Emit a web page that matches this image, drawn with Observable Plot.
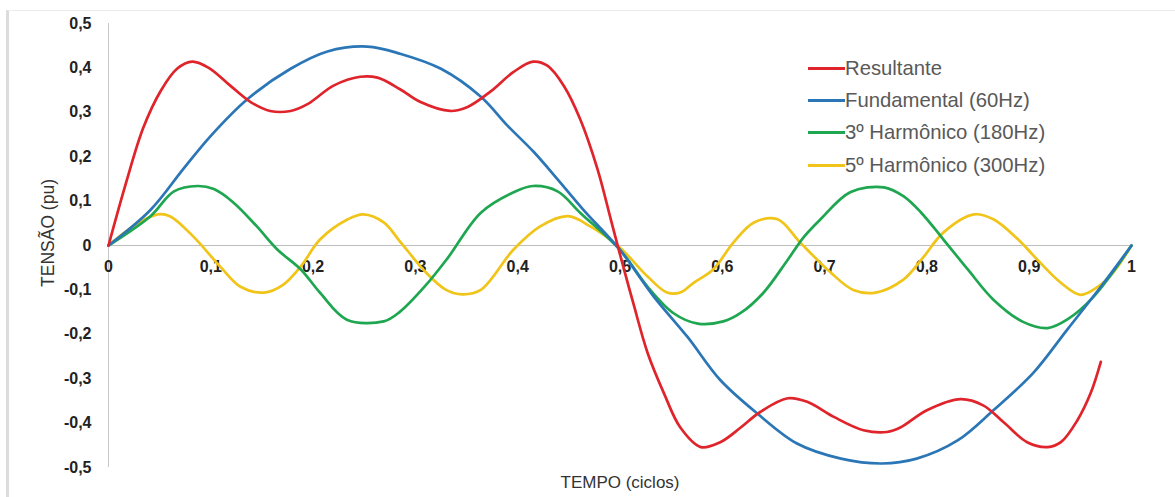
<!DOCTYPE html>
<html>
<head>
<meta charset="utf-8">
<script src="https://cdn.jsdelivr.net/npm/d3@7"></script>
<script src="https://cdn.jsdelivr.net/npm/@observablehq/plot@0.6"></script>
<style>
  html, body { margin: 0; padding: 0; background: #fff; }
  #wrap { position: relative; width: 1175px; height: 497px; overflow: hidden; font-family: "Liberation Sans", Arial, sans-serif; }
  #frame { position: absolute; left: 6px; top: 10px; right: 0; bottom: 0; border-left: 3px solid #dcdcdc; border-top: 1px solid #ececec; }
  #chart { position: absolute; left: 0; top: 0; }
  #legend { position: absolute; left: 808px; top: 52px; }
  .item { display: flex; align-items: center; height: 32.3px; }
  .sw { width: 37px; height: 3px; }
  .lbl { font-size: 20.3px; color: #595959; white-space: nowrap; }
</style>
</head>
<body>
<div id="wrap">
  <div id="frame"></div>
  <div id="chart"></div>
  <div id="legend"></div>
</div>
<script>
// ---- data ----
const seriesNames = ["Resultante", "Fundamental (60Hz)", "3º Harmônico (180Hz)", "5º Harmônico (300Hz)"];
const seriesColors = ["#e0242b", "#2b76b6", "#1fa650", "#f0c419"];

const resT = [0, 0.017, 0.034, 0.051, 0.067, 0.082, 0.098, 0.119, 0.139, 0.158, 0.178, 0.195, 0.22, 0.246, 0.263, 0.285, 0.305, 0.334, 0.351, 0.373, 0.396, 0.415, 0.429, 0.445, 0.461, 0.478, 0.491, 0.5, 0.513, 0.527, 0.543, 0.559, 0.579, 0.598, 0.618, 0.637, 0.664, 0.683, 0.709, 0.738, 0.761, 0.774, 0.8, 0.833, 0.855, 0.875, 0.898, 0.918, 0.931, 0.947, 0.96, 0.97];
const resV = [0, 0.14, 0.265, 0.348, 0.398, 0.414, 0.40, 0.36, 0.323, 0.303, 0.303, 0.319, 0.36, 0.38, 0.378, 0.352, 0.323, 0.303, 0.312, 0.346, 0.391, 0.414, 0.405, 0.36, 0.285, 0.172, 0.059, -0.02, -0.13, -0.242, -0.333, -0.41, -0.454, -0.443, -0.41, -0.375, -0.344, -0.352, -0.386, -0.416, -0.42, -0.41, -0.371, -0.346, -0.36, -0.398, -0.443, -0.454, -0.443, -0.394, -0.333, -0.262];

const fundT = [0, 0.041, 0.073, 0.1, 0.136, 0.178, 0.214, 0.253, 0.285, 0.325, 0.364, 0.39, 0.416, 0.439, 0.464, 0.5, 0.533, 0.566, 0.598, 0.634, 0.673, 0.716, 0.756, 0.79, 0.83, 0.865, 0.904, 0.937, 0.97, 1];
const fundV = [0, 0.08, 0.172, 0.247, 0.33, 0.398, 0.437, 0.448, 0.432, 0.398, 0.335, 0.27, 0.21, 0.149, 0.081, -0.01, -0.115, -0.206, -0.303, -0.378, -0.446, -0.48, -0.491, -0.48, -0.439, -0.371, -0.287, -0.19, -0.093, 0];

const h3T = [0, 0.041, 0.064, 0.087, 0.103, 0.122, 0.145, 0.165, 0.188, 0.207, 0.233, 0.269, 0.285, 0.31, 0.331, 0.364, 0.396, 0.415, 0.439, 0.461, 0.5, 0.527, 0.552, 0.576, 0.601, 0.618, 0.64, 0.664, 0.68, 0.696, 0.725, 0.758, 0.777, 0.794, 0.816, 0.84, 0.865, 0.894, 0.918, 0.937, 0.963, 1];
const h3V = [0, 0.066, 0.122, 0.134, 0.127, 0.097, 0.043, -0.009, -0.054, -0.107, -0.167, -0.171, -0.149, -0.09, -0.03, 0.074, 0.12, 0.134, 0.122, 0.074, -0.01, -0.093, -0.152, -0.176, -0.171, -0.152, -0.107, -0.032, 0.02, 0.059, 0.12, 0.131, 0.111, 0.075, 0.014, -0.054, -0.122, -0.172, -0.186, -0.167, -0.115, 0];

const h5T = [0, 0.024, 0.048, 0.06, 0.083, 0.109, 0.129, 0.152, 0.171, 0.188, 0.207, 0.234, 0.249, 0.269, 0.285, 0.31, 0.33, 0.346, 0.364, 0.396, 0.422, 0.449, 0.471, 0.5, 0.527, 0.546, 0.559, 0.572, 0.591, 0.611, 0.631, 0.654, 0.676, 0.706, 0.728, 0.75, 0.777, 0.797, 0.816, 0.846, 0.865, 0.889, 0.908, 0.931, 0.95, 0.967, 0.982, 1];
const h5V = [0, 0.043, 0.07, 0.066, 0.02, -0.047, -0.093, -0.106, -0.088, -0.047, 0.014, 0.059, 0.07, 0.052, 0.009, -0.06, -0.1, -0.11, -0.1, -0.009, 0.043, 0.066, 0.043, -0.005, -0.07, -0.106, -0.106, -0.084, -0.054, 0.007, 0.052, 0.059, 0.007, -0.061, -0.1, -0.106, -0.077, -0.025, 0.029, 0.07, 0.059, 0.014, -0.032, -0.084, -0.111, -0.093, -0.061, 0];

const xTicks = [0, 0.1, 0.2, 0.3, 0.4, 0.5, 0.6, 0.7, 0.8, 0.9, 1];
const xTickLabels = ["0", "0,1", "0,2", "0,3", "0,4", "0,5", "0,6", "0,7", "0,8", "0,9", "1"];
const yTicks = [-0.5, -0.4, -0.3, -0.2, -0.1, 0, 0.1, 0.2, 0.3, 0.4, 0.5];
const yTickLabels = ["-0,5", "-0,4", "-0,3", "-0,2", "-0,1", "0", "0,1", "0,2", "0,3", "0,4", "0,5"];
const xTitle = "TEMPO (ciclos)";
const yTitle = "TENSÃO (pu)";

// ---- build table ----
const pairs = [[resT, resV], [fundT, fundV], [h3T, h3V], [h5T, h5V]];
const rows = [];
pairs.forEach(([T, V], i) => T.forEach((t, j) => rows.push({ s: seriesNames[i], t, v: V[j] })));
// draw order: yellow, green, blue, red (red on top)
const drawOrder = [3, 2, 1, 0];

const font = '"Liberation Sans", Arial, sans-serif';

const chart = Plot.plot({
  width: 1175,
  height: 497,
  marginLeft: 108,
  marginRight: 44,
  marginTop: 23,
  marginBottom: 30,
  style: { fontFamily: font, background: "transparent", overflow: "visible" },
  x: { domain: [0, 1] },
  y: { domain: [-0.5, 0.5] },
  color: { domain: seriesNames, range: seriesColors },
  marks: [
    Plot.ruleY([0], { stroke: "#bdbdbd", strokeWidth: 1 }),
    Plot.ruleX([0], { stroke: "#c8c8c8", strokeWidth: 1 }),
    Plot.axisY({
      ticks: yTicks, tickSize: 0, tickPadding: 17, label: null,
      tickFormat: (d) => yTickLabels[yTicks.indexOf(d)],
      fontSize: 16, fontWeight: "bold", fill: "#222"
    }),
    Plot.axisX({ ticks: [], label: null, tickSize: 0 }),
    Plot.text(xTicks, {
      x: (d) => d, y: 0, text: (d, i) => xTickLabels[i], dy: 21,
      fontSize: 16, fontWeight: "bold", fill: "#222", textAnchor: "middle"
    }),
    ...drawOrder.map((i) =>
      Plot.line(rows.filter((r) => r.s === seriesNames[i]), {
        x: "t", y: "v", stroke: "s", strokeWidth: 2.7, curve: "catmull-rom"
      })
    )
  ]
});

// axis titles
const svg = d3.select(chart);
svg.append("text")
  .attr("x", 620).attr("y", 488)
  .attr("text-anchor", "middle")
  .attr("font-family", font).attr("font-size", 17).attr("fill", "#333")
  .text(xTitle);
svg.append("text")
  .attr("transform", "translate(54,233) rotate(-90)")
  .attr("text-anchor", "middle")
  .attr("font-family", font).attr("font-size", 17.5).attr("fill", "#333")
  .text(yTitle);

document.getElementById("chart").appendChild(chart);

// legend
const legend = document.getElementById("legend");
seriesNames.forEach((name, i) => {
  const item = document.createElement("div");
  item.className = "item";
  const sw = document.createElement("div");
  sw.className = "sw";
  sw.style.background = seriesColors[i];
  const lbl = document.createElement("span");
  lbl.className = "lbl";
  lbl.textContent = name;
  item.appendChild(sw);
  item.appendChild(lbl);
  legend.appendChild(item);
});
</script>
</body>
</html>
